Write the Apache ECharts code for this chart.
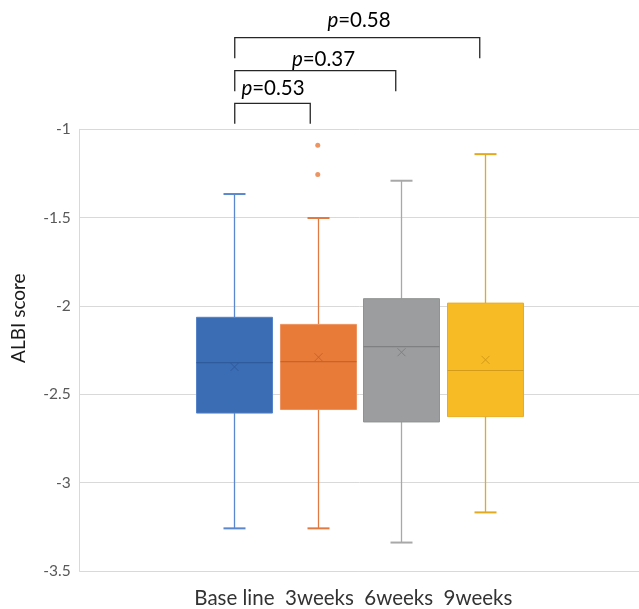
<!DOCTYPE html>
<html>
<head>
<meta charset="utf-8">
<script src="https://cdn.jsdelivr.net/npm/echarts@6/dist/echarts.min.js"></script>
<style>html,body{margin:0;padding:0;background:#fff}#c{width:639px;height:609px}</style>
</head>
<body>
<div id="c"></div>
<script>
// ---- data ----
var categories = ['Base line', '3weeks', '6weeks', '9weeks'];
var whiskerLow  = [-3.25, -3.25, -3.33, -3.16];
var q1Values    = [-2.60, -2.58, -2.65, -2.62];
var medians     = [-2.315, -2.31, -2.225, -2.36];
var q3Values    = [-2.06, -2.10, -1.955, -1.98];
var whiskerHigh = [-1.365, -1.50, -1.29, -1.14];
var means       = [-2.34, -2.285, -2.257, -2.30];
var outliers    = [[1, -1.09], [1, -1.255]];
var yTicks      = [-3.5, -3, -2.5, -2, -1.5, -1];
var pLabels     = ['0.53', '0.37', '0.58'];
var pTargets    = [1, 2, 3];

var fills   = ['#3B6DB4', '#E87B38', '#9B9D9E', '#F7BB25'];
var borders = ['#5582C9', '#EE935E', '#8F9192', '#E8AC22'];
var lines   = ['#5B87CC', '#E07A40', '#A8A8A8', '#E3A91F'];
var darks   = ['#2F5A9C', '#C4652D', '#7E8081', '#D49A1A'];

var boxData = categories.map(function (c, i) {
  return [i, whiskerLow[i], q1Values[i], medians[i], q3Values[i], whiskerHigh[i], means[i]];
});

var chart = echarts.init(document.getElementById('c'), null, {renderer: 'canvas'});
var FONT = 'Lato, "Open Sans", sans-serif';

function renderBox(params, api) {
  var i = api.value(0);
  var band = api.size([1, 0])[0];
  var bw = band * 0.91;
  var capW = 22;
  var pLow = api.coord([i, api.value(1)]);
  var pQ1 = api.coord([i, api.value(2)]);
  var pMed = api.coord([i, api.value(3)]);
  var pQ3 = api.coord([i, api.value(4)]);
  var pHigh = api.coord([i, api.value(5)]);
  var pMean = api.coord([i, api.value(6)]);
  var cx = Math.round(pQ1[0]) + 0.5;
  var ls = {stroke: lines[i], lineWidth: 1.3};
  var xs = 4;
  return {
    type: 'group',
    children: [
      {type: 'line', shape: {x1: cx, y1: pHigh[1], x2: cx, y2: pQ3[1]}, style: ls},
      {type: 'line', shape: {x1: cx, y1: pQ1[1], x2: cx, y2: pLow[1]}, style: ls},
      {type: 'line', shape: {x1: cx - capW / 2, y1: pHigh[1], x2: cx + capW / 2, y2: pHigh[1]}, style: {stroke: lines[i], lineWidth: 2}},
      {type: 'line', shape: {x1: cx - capW / 2, y1: pLow[1], x2: cx + capW / 2, y2: pLow[1]}, style: {stroke: lines[i], lineWidth: 2}},
      {type: 'rect', shape: {x: cx - bw / 2, y: pQ3[1], width: bw, height: pQ1[1] - pQ3[1]},
        style: {fill: fills[i], stroke: borders[i], lineWidth: 1}},
      {type: 'line', shape: {x1: cx - bw / 2, y1: pMed[1], x2: cx + bw / 2, y2: pMed[1]}, style: {stroke: darks[i], lineWidth: 1.2}},
      {type: 'line', shape: {x1: cx - xs, y1: pMean[1] - xs, x2: cx + xs, y2: pMean[1] + xs}, style: {stroke: darks[i], lineWidth: 1}},
      {type: 'line', shape: {x1: cx - xs, y1: pMean[1] + xs, x2: cx + xs, y2: pMean[1] - xs}, style: {stroke: darks[i], lineWidth: 1}}
    ]
  };
}

var gridTop = 129.3, gridBottom = 36.3;

chart.setOption({
  animation: false,
  backgroundColor: '#fff',
  textStyle: {fontFamily: FONT},
  grid: [
    {left: 79.7, right: 0, top: gridTop, bottom: gridBottom, containLabel: false},
    {left: 192.5, width: 334, top: gridTop, bottom: gridBottom, containLabel: false}
  ],
  xAxis: [
    {
      type: 'category', gridIndex: 0,
      data: [categories.join('  ')],
      axisLine: {show: true, lineStyle: {color: '#D9D9D9', width: 1}},
      axisTick: {show: false},
      axisLabel: {fontSize: 20.5, color: '#333333', fontFamily: FONT, margin: 17, padding: [0, 12, 0, 0]}
    },
    {
      type: 'category', gridIndex: 1, data: categories,
      show: false
    }
  ],
  yAxis: [
    {
      type: 'value', gridIndex: 0, min: yTicks[0], max: yTicks[yTicks.length - 1], interval: 0.5,
      name: 'ALBI score', nameLocation: 'middle', nameGap: 51,
      nameTextStyle: {fontSize: 19, color: '#1a1a1a', fontFamily: FONT, padding: [0, 0, 0, 64]},
      axisLine: {show: true, lineStyle: {color: '#D9D9D9', width: 1}},
      axisTick: {show: false},
      splitLine: {show: true, lineStyle: {color: '#D9D9D9', width: 1}},
      axisLabel: {fontSize: 15.5, color: '#595959', fontFamily: FONT, margin: 9,
        formatter: function (v) { return String(v); }}
    },
    {
      type: 'value', gridIndex: 1, min: yTicks[0], max: yTicks[yTicks.length - 1], show: false
    }
  ],
  series: [
    {
      type: 'custom', xAxisIndex: 1, yAxisIndex: 1,
      renderItem: renderBox,
      encode: {x: 0, y: [1, 2, 3, 4, 5, 6]},
      data: boxData, z: 3
    },
    {
      type: 'scatter', xAxisIndex: 1, yAxisIndex: 1,
      symbol: 'circle', symbolSize: 5,
      itemStyle: {color: '#E8793A'},
      data: outliers, z: 4
    }
  ]
});

// significance brackets drawn from axis positions
var bracketTops = [103.3, 70.7, 37.7];
var legLen = 20.5;
var rightOffsets = [-7.5, -5.5, -5];
var textCenters = [[273, 88], [323.5, 59], [359, 20]];
var basePx = chart.convertToPixel({xAxisIndex: 1}, categories[0]);
var graphics = [];
pTargets.forEach(function (t, k) {
  var rx = chart.convertToPixel({xAxisIndex: 1}, categories[t]) + rightOffsets[k];
  var lx = basePx + 0.5;
  var top = bracketTops[k];
  graphics.push({
    type: 'polyline', silent: true,
    shape: {points: [[lx, top + legLen], [lx, top], [rx, top], [rx, top + legLen]]},
    style: {stroke: '#262626', lineWidth: 1.3, fill: null}
  });
  graphics.push({
    type: 'text', silent: true,
    x: textCenters[k][0], y: textCenters[k][1],
    style: {
      text: '{i|p}{n|=' + pLabels[k] + '}',
      align: 'center', verticalAlign: 'middle',
      rich: {
        i: {fontSize: 20.5, fontStyle: 'italic', fontFamily: FONT, fill: '#000'},
        n: {fontSize: 20.5, fontFamily: FONT, fill: '#000'}
      }
    }
  });
});
chart.setOption({graphic: graphics});
</script>
</body>
</html>
